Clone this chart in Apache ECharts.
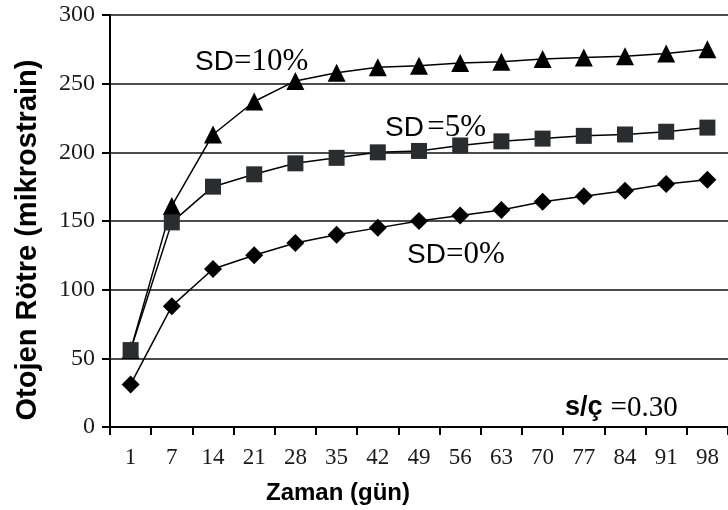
<!DOCTYPE html>
<html>
<head>
<meta charset="utf-8">
<script src="https://cdn.jsdelivr.net/npm/echarts@6/dist/echarts.min.js"></script>
<style>
html,body{margin:0;padding:0;background:#fff;}
#c{width:728px;height:510px;}
</style>
</head>
<body>
<div id="c"></div>
<script>
const categories = ['1','7','14','21','28','35','42','49','56','63','70','77','84','91','98'];
const sd10 = [56,161,213,237,252,258,262,263,265,266,268,269,270,272,275];
const sd5  = [56,149,175,184,192,196,200,201,205,208,210,212,213,215,218];
const sd0  = [31,88,115,125,134,140,145,150,154,158,164,168,172,177,180];
const yTicks = [0,50,100,150,200,250,300];

const chart = echarts.init(document.getElementById('c'));
const serif = '"Liberation Serif","DejaVu Serif",serif';
const sans = '"Liberation Sans",Arial,sans-serif';
function mk(name, data, symbol, size, color){
  return {
    name, type:'line', data, symbol, symbolSize:size,
    lineStyle:{color:'#000', width:1.5},
    itemStyle:{color:color, borderColor:color, borderWidth:0},
    animation:false, z:3
  };
}
const rich = {
  s:{fontFamily:sans, fontSize:28, color:'#111'},
  r:{fontFamily:serif, fontSize:31, color:'#111'},
  b:{fontFamily:sans, fontSize:27, fontWeight:'bold', color:'#111'},
  n:{fontFamily:serif, fontSize:29, color:'#111', padding:[0,0,0,8]}
};
function label(x, y, text){
  return {type:'text', x:x, y:y, style:{text:text, rich:rich, verticalAlign:'middle', align:'left'}};
}
chart.setOption({
  animation:false,
  grid:{left:110, top:15, width:620, height:414, containLabel:false},
  xAxis:{
    type:'category', data:categories, boundaryGap:true,
    name:'Zaman (gün)', nameLocation:'middle', nameGap:54,
    nameTextStyle:{fontFamily:sans, fontWeight:'bold', fontSize:24, color:'#000', padding:[0,162,0,0]},
    axisLine:{lineStyle:{color:'#000', width:2}},
    axisTick:{show:true, length:8, lineStyle:{color:'#000', width:2}, alignWithLabel:false},
    axisLabel:{fontFamily:serif, fontSize:23, color:'#1a1a1a', margin:19}
  },
  yAxis:{
    type:'value', min:yTicks[0], max:yTicks[yTicks.length-1], interval:50,
    axisLine:{show:true, lineStyle:{color:'#000', width:2}},
    axisTick:{show:true, length:8, lineStyle:{color:'#000', width:2}},
    axisLabel:{fontFamily:serif, fontSize:24, color:'#1a1a1a', margin:15},
    splitLine:{lineStyle:{color:'#111', width:1.5}}
  },
  series:[
    mk('SD=10%', sd10, 'triangle', 18, '#000'),
    mk('SD=5%', sd5, 'rect', 16, '#2a2d2f'),
    mk('SD=0%', sd0, 'diamond', 18, '#000')
  ],
  graphic:[
    {type:'text', x:28, y:240, rotation:Math.PI/2,
     style:{text:'Otojen Rötre (mikrostrain)', font:'bold 29px '+sans, fill:'#000', align:'center', verticalAlign:'middle'}},
    label(195, 62, '{s|SD}{r|=10%}'),
    label(385, 128, '{s|SD} {r|=5%}'),
    label(407, 255, '{s|SD}{r|=0%}'),
    label(565, 408, '{b|s/ç}{n|=0.30}')
  ]
});
</script>
</body>
</html>
